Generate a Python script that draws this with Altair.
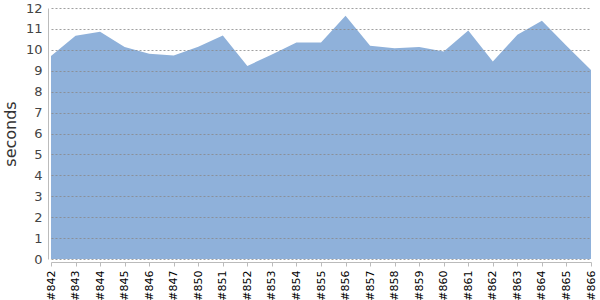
import altair as alt
import pandas as pd

builds = ["#842", "#843", "#844", "#845", "#846", "#847", "#850", "#851", "#852",
          "#853", "#854", "#855", "#856", "#857", "#858", "#859", "#860", "#861",
          "#862", "#863", "#864", "#865", "#866"]
seconds = [9.71, 10.67, 10.86, 10.13, 9.81, 9.73, 10.15, 10.68, 9.23,
           9.78, 10.35, 10.35, 11.63, 10.2, 10.08, 10.13, 9.92, 10.92,
           9.44, 10.72, 11.39, 10.2, 9.04]
y_ticks = [0, 1, 2, 3, 4, 5, 6, 7, 8, 9, 10, 11, 12]

df = pd.DataFrame({"build": builds, "seconds": seconds})

chart = alt.Chart(df).mark_area(color="#8fb1da", opacity=1, interpolate="linear").encode(
    x=alt.X("build:N", sort=builds, title=None,
            scale=alt.Scale(type="point", padding=0),
            axis=alt.Axis(labelAngle=-90, labelAlign="right", labelBaseline="middle",
                          labelFontSize=11, labelColor="#000", labelFont="DejaVu Sans",
                          domainColor="#bbbbbb", tickColor="#bbbbbb", tickSize=4,
                          offset=3, grid=False, labelPadding=4, labelOverlap=False)),
    y=alt.Y("seconds:Q", title="seconds",
            scale=alt.Scale(domain=[0, 12], nice=False, zero=True),
            axis=alt.Axis(values=y_ticks, ticks=False, labelOverlap=False,
                          labelFontSize=13, labelColor="#444", labelFont="DejaVu Sans",
                          labelFontWeight="normal", labelPadding=6,
                          titleFontSize=16, titleFont="DejaVu Sans", titleColor="#333",
                          titleFontWeight="normal", titlePadding=7,
                          domainColor="#bbbbbb", offset=3,
                          grid=True, gridColor="#888888", gridDash=[2, 2],
                          gridOpacity=0.8, zindex=1)),
).properties(
    width=540, height=251,
    autosize=alt.AutoSizeParams(type="none"),
    padding={"left": 51, "top": 8, "right": 9, "bottom": 41},
).configure_view(stroke=None)

chart.save("out.html", embed_options={"renderer": "svg", "actions": False})
